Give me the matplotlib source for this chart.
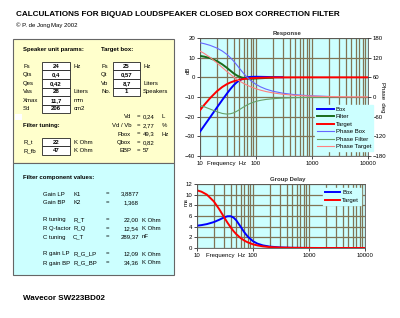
import numpy as np
import matplotlib
matplotlib.use('Agg')
import matplotlib.pyplot as plt
from matplotlib.patches import Rectangle

plt.rcParams['font.family'] = ['Liberation Sans', 'DejaVu Sans']

# ---- data ----
freq = [10, 12, 15, 20, 25, 30, 35, 40, 45, 50, 60, 70, 80, 100, 120, 150,
        200, 300, 500, 1000, 2000, 5000, 10000]

box_db = [-27.6, -24.4, -20.5, -15.4, -11.5, -8.4, -5.9, -4.0, -2.6, -1.6,
          -0.45, 0.04, 0.23, 0.29, 0.26, 0.2, 0.12, 0.06]
filter_db = [10.9, 10.5, 9.8, 8.3, 6.6, 4.9, 3.35, 2.0, 1.05, 0.36, -0.4,
             -0.66, -0.7, -0.59, -0.47, -0.33, -0.19]
target_db = [-16.7, -13.9, -10.7, -7.1, -4.9, -3.5, -2.6, -2.0, -1.55, -1.24,
             -0.85, -0.62, -0.47, -0.30, -0.21, -0.13, -0.07, -0.03, -0.01,
             0, 0, 0, 0]
phase_box = [165.5, 162.5, 157.8, 149.4, 140.2, 130.3, 119.8, 109.1, 98.5,
             88.7, 72.0, 59.6, 50.5, 38.5, 31.1, 24.2, 17.7, 11.6, 6.9, 3.5, 1.7]
phase_filter = [-25.4, -30.1, -36.5, -45.0, -50.2, -52.1, -51.1, -48.2, -43.8,
                -39.2, -30.5, -23.9, -19.2, -13.4, -10.2, -7.5, -5.1, -3.2,
                -1.9, -1.0, -0.4]
phase_target = [140.1, 132.4, 121.3, 104.4, 90.0, 78.2, 68.7, 60.9, 54.7,
                49.5, 41.5, 35.7, 31.3, 25.1, 20.9, 16.7, 12.6, 8.4, 5.0, 2.5,
                1.3, 0.5, 0.3]

gd_box = [4.18, 4.29, 4.48, 4.86, 5.30, 5.70, 5.95, 5.96, 5.70, 5.22, 4.01,
          2.95, 2.17, 1.27, 0.82, 0.49, 0.26, 0.11, 0.04, 0.01, 0, 0, 0]
gd_target = [10.81, 10.56, 10.01, 8.73, 7.26, 5.89, 4.75, 3.86, 3.16, 2.62,
             1.87, 1.39, 1.07, 0.69, 0.48, 0.31, 0.17, 0.08, 0.03, 0.01, 0, 0, 0]

freq_ticks = [10, 100, 1000, 10000]
db_ticks = [-40, -30, -20, -10, 0, 10, 20]
deg_ticks = [-180, -120, -60, 0, 60, 120, 180]
ms_ticks = [0, 2, 4, 6, 8, 10, 12]

# spreadsheet cells
spk_labels = ['Fs', 'Qts', 'Qes', 'Vas', 'Xmax', 'Sd']
spk_values = ['24', '0,4', '0,42', '28', '11,7', '206']
spk_units = ['Hz', '', '', 'Liters', 'mm', 'cm2']
tgt_labels = ['Fs', 'Qt', 'Vb', 'No.']
tgt_values = ['25', '0,57', '8,7', '1']
tgt_units = ['Hz', '', 'Liters', 'Speakers']
box_labels = ['Vd', 'Vd / Vb', 'Fbox', 'Qbox', 'EBP']
box_values = ['0,24', '2,77', '49,3', '0,82', '57']
box_units = ['L', '%', 'Hz', '', '']
tune_labels = ['R_t', 'R_fb']
tune_values = ['22', '47']
comp_names = ['Gain LP', 'Gain BP', 'R tuning', 'R Q-factor', 'C tuning',
              'R gain LP', 'R gain BP']
comp_syms = ['K1', 'K2', 'R_T', 'R_Q', 'C_T', 'R_G_LP', 'R_G_BP']
comp_values = ['3,8877', '1,368', '22,00', '12,54', '289,37', '12,09', '34,36']
comp_units = ['', '', 'K Ohm', 'K Ohm', 'nF', 'K Ohm', 'K Ohm']

W, H = 400, 318
CYAN = '#ccffff'
YELLOW = '#ffffcc'
GRIDC = '#807455'
FS = 4.3

fig = plt.figure(figsize=(W / 100, H / 100), dpi=100)
fig.patch.set_facecolor('white')

# background sheet axes in pixel coords
bg = fig.add_axes([0, 0, 1, 1])
bg.set_xlim(0, W)
bg.set_ylim(H, 0)
bg.axis('off')

bg.text(16, 15, 'CALCULATIONS FOR BIQUAD LOUDSPEAKER CLOSED BOX CORRECTION FILTER',
        fontsize=5.9, fontweight='bold', va='center', ha='left')
bg.text(16, 25, '© P. de Jong', fontsize=FS, va='center')
bg.text(51, 25, 'May 2002', fontsize=FS, va='center')

bg.add_patch(Rectangle((13, 39), 161, 124, facecolor=YELLOW, edgecolor='#666666', lw=0.8))
bg.add_patch(Rectangle((13, 163), 161, 112, facecolor=CYAN, edgecolor='#666666', lw=0.8))
bg.add_patch(Rectangle((15, 114), 7, 6, facecolor='white', edgecolor='none'))

bg.text(23, 50, 'Speaker unit params:', fontsize=FS, fontweight='bold', va='center')
bg.text(101, 50, 'Target box:', fontsize=FS, fontweight='bold', va='center')

row_h = 8.6
for i in range(len(spk_labels)):
    y = 66 + i * row_h
    bg.text(23, y, spk_labels[i], fontsize=FS, va='center')
    bg.add_patch(Rectangle((42, y - row_h / 2), 28, row_h, facecolor='white',
                           edgecolor='#222222', lw=0.6))
    bg.text(56, y, spk_values[i], fontsize=FS, fontweight='bold', va='center', ha='center')
    bg.text(74, y, spk_units[i], fontsize=FS, va='center')

for i in range(len(tgt_labels)):
    y = 66 + i * row_h
    bg.text(101, y, tgt_labels[i], fontsize=FS, va='center')
    bg.add_patch(Rectangle((113, y - row_h / 2), 27, row_h, facecolor='white',
                           edgecolor='#222222', lw=0.6))
    bg.text(126.5, y, tgt_values[i], fontsize=FS, fontweight='bold', va='center', ha='center')
    bg.text(143, y, tgt_units[i], fontsize=FS, va='center')

for i in range(len(box_labels)):
    y = 117 + i * 8.5
    bg.text(131, y, box_labels[i], fontsize=FS, va='center', ha='right')
    bg.text(138, y, '=', fontsize=FS, va='center', ha='center')
    bg.text(143, y, box_values[i], fontsize=FS, va='center')
    bg.text(162, y, box_units[i], fontsize=FS, va='center')

bg.text(23, 126, 'Filter tuning:', fontsize=FS, fontweight='bold', va='center')
for i in range(len(tune_labels)):
    y = 142 + i * row_h
    bg.text(23, y, tune_labels[i], fontsize=FS, va='center')
    bg.add_patch(Rectangle((42, y - row_h / 2), 28, row_h, facecolor='white',
                           edgecolor='#222222', lw=0.6))
    bg.text(56, y, tune_values[i], fontsize=FS, fontweight='bold', va='center', ha='center')
    bg.text(74, y, 'K Ohm', fontsize=FS, va='center')

bg.text(23, 177, 'Filter component values:', fontsize=FS, fontweight='bold', va='center')
comp_y = [194, 203, 220, 228.5, 237, 254, 263]
for i in range(len(comp_names)):
    y = comp_y[i]
    bg.text(43, y, comp_names[i], fontsize=FS, va='center')
    bg.text(73, y, comp_syms[i], fontsize=FS, va='center')
    bg.text(107, y, '=', fontsize=FS, va='center', ha='center')
    bg.text(139, y, comp_values[i], fontsize=FS, va='center', ha='right')
    bg.text(141.5, y, comp_units[i], fontsize=FS, va='center')

bg.text(23, 299, 'Wavecor SW223BD02', fontsize=5.8, fontweight='bold', va='center')


def style_axes(a):
    a.set_facecolor(CYAN)
    a.set_xscale('log')
    a.set_xlim(10, 10000)
    a.set_xticks(freq_ticks)
    a.set_xticklabels([str(t) for t in freq_ticks])
    a.xaxis.set_minor_formatter(matplotlib.ticker.NullFormatter())
    a.grid(True, which='both', axis='x', color=GRIDC, lw=0.9)
    a.grid(True, which='major', axis='y', color=GRIDC, lw=0.9)
    a.tick_params(which='both', labelsize=FS, length=2, width=0.5, pad=1.5)
    a.tick_params(which='minor', length=0)
    for s in a.spines.values():
        s.set_color('#555555')
        s.set_linewidth(0.6)


# ---- Response chart ----
ax = fig.add_axes([200 / W, 1 - 156 / H, 168 / W, 118 / H])
style_axes(ax)
ax.set_ylim(-40, 20)
ax.set_yticks(db_ticks)
ax2 = ax.twinx()
ax2.set_ylim(-180, 180)
ax2.set_yticks(deg_ticks)
ax2.tick_params(labelsize=FS, length=2, width=0.5, pad=1.5)
for s in ax2.spines.values():
    s.set_visible(False)

ax.plot(freq[:len(box_db)], box_db, color='#0000ff', lw=1.4, label='Box', zorder=5)
ax.plot(freq[:len(filter_db)], filter_db, color='#1a6b1a', lw=1.4, label='Filter', zorder=5)
ax.plot(freq[:len(target_db)], target_db, color='#ff0000', lw=1.4, label='Target', zorder=6)
ax2.plot(freq[:len(phase_box)], phase_box, color='#6666ff', lw=0.8, label='Phase Box')
ax2.plot(freq[:len(phase_filter)], phase_filter, color='#66a066', lw=0.8, label='Phase Filter')
ax2.plot(freq[:len(phase_target)], phase_target, color='#ff8080', lw=0.8, label='Phase Target')

h1, l1 = ax.get_legend_handles_labels()
h2, l2 = ax2.get_legend_handles_labels()
ax2.legend(h1 + h2, l1 + l2, loc='upper left', bbox_to_anchor=(312 / W, 1 - 102 / H),
           bbox_transform=fig.transFigure, fontsize=FS, frameon=True,
           facecolor=CYAN, edgecolor=CYAN, framealpha=1, fancybox=False,
           handlelength=2.9, labelspacing=0.38, borderpad=0.3, handletextpad=0.3)

bg.text(287, 33, 'Response', fontsize=FS, fontweight='bold', ha='center', va='center',
        color='#333333')
bg.text(227, 163, 'Frequency  Hz', fontsize=FS, ha='center', va='center')
bg.text(188, 70, 'dB', fontsize=FS, rotation=90, ha='center', va='center')
bg.text(382, 97, 'Phase  deg', fontsize=FS, rotation=-90, ha='center', va='center')

# ---- Group delay chart ----
gx = fig.add_axes([197 / W, 1 - 248 / H, 168 / W, 64 / H])
style_axes(gx)
gx.set_ylim(0, 12)
gx.set_yticks(ms_ticks)
gx.plot(freq[:len(gd_box)], gd_box, color='#0000ff', lw=1.4, label='Box')
gx.plot(freq[:len(gd_target)], gd_target, color='#ff0000', lw=1.4, label='Target')
gx.legend(loc='upper left', bbox_to_anchor=(320 / W, 1 - 185 / H),
          bbox_transform=fig.transFigure, fontsize=FS, frameon=True,
          facecolor=CYAN, edgecolor=CYAN, framealpha=1, fancybox=False,
          handlelength=2.6, labelspacing=0.55, borderpad=0.3, handletextpad=0.3)

bg.text(288, 179, 'Group Delay', fontsize=FS, fontweight='bold', ha='center', va='center',
        color='#333333')
bg.text(226, 255, 'Frequency  Hz', fontsize=FS, ha='center', va='center')
bg.text(186, 202, 'ms', fontsize=FS, rotation=90, ha='center', va='center')

fig.savefig('out.png', dpi=100)
